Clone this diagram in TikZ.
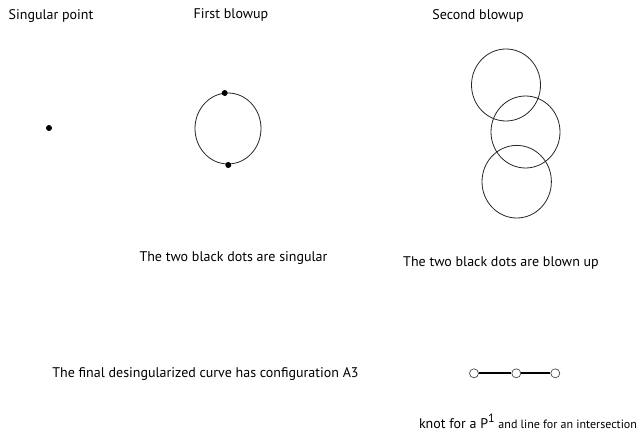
\documentclass[tikz,border=0pt]{standalone}
\usepackage{fontspec}
\setmainfont{PT Sans}
\begin{document}
\begin{tikzpicture}[x=1pt,y=-1pt,
  lbl/.style={font=\fontsize{14}{16}\selectfont, inner sep=0pt},
  curve/.style={line width=0.8pt, draw=black!85},
  sing/.style={circle, fill=black, inner sep=0pt, minimum size=6pt},
  knot/.style={circle, draw=black!70, fill=white, line width=0.7pt, inner sep=0pt, minimum size=9pt},
  bond/.style={line width=2pt}]
\useasboundingbox (0,0) rectangle (642,443);
\node[lbl] (t1) at (51,16) {Singular point};
\node[lbl] (t2) at (231,15) {First blowup};
\node[lbl] (t3) at (478,16) {Second blowup};
\node[sing] (p0) at (49,128) {};
\draw[curve] (228,128.5) ellipse [x radius=33, y radius=35.5];
\node[sing] (pa) at (224.7,93) {};
\node[sing] (pb) at (228.3,165) {};
\draw[curve] (506,85) ellipse [x radius=34.5, y radius=36];
\draw[curve] (525.5,132) ellipse [x radius=34.5, y radius=36];
\draw[curve] (516.7,181.7) ellipse [x radius=34.7, y radius=36.3];
\node[lbl] (d1) at (233.5,258) {The two black dots are singular};
\node[lbl] (d2) at (501,263) {The two black dots are blown up};
\node[lbl] (d3) at (205.5,374) {The final desingularized curve has configuration A3};
\node[knot] (k1) at (474,373.3) {};
\node[knot] (k2) at (516.3,373.3) {};
\node[knot] (k3) at (555.3,373.3) {};
\draw[bond] (k1) -- (k2);
\draw[bond] (k2) -- (k3);
\node[inner sep=0pt, anchor=base] (leg) at (528,428) {\fontsize{14}{16}\selectfont knot for a P\raisebox{6pt}{\fontsize{12}{14}\selectfont 1} \fontsize{12}{14}\selectfont and line for an intersection};
\end{tikzpicture}
\end{document}
